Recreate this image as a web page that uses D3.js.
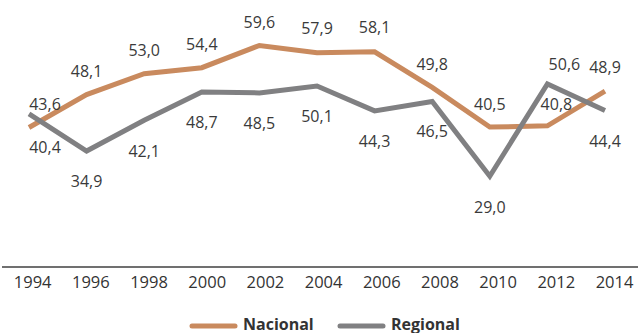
<!DOCTYPE html>
<html>
<head>
<meta charset="utf-8">
<script src="https://cdn.jsdelivr.net/npm/d3@7"></script>
<style>
  html, body { margin: 0; padding: 0; background: #ffffff; }
  svg { display: block; font-family: "Open Sans", sans-serif; }
</style>
</head>
<body>
<svg id="chart" width="638" height="333"></svg>
<script>
// Years on the horizontal axis
const years = [1994, 1996, 1998, 2000, 2002, 2004, 2006, 2008, 2010, 2012, 2014];

// Series values
const nacional = [40.4, 48.1, 53.0, 54.4, 59.6, 57.9, 58.1, 49.8, 40.5, 40.8, 48.9];
const regional = [43.6, 34.9, 42.1, 48.7, 48.5, 50.1, 44.3, 46.5, 29.0, 50.6, 44.4];

const seriesNames = ["Nacional", "Regional"];
const seriesColors = ["#c98a5e", "#808082"];

// Label nudges (pixels) relative to each point: [dx, dy to baseline]
const nacionalLabelNudge = [[16, 25.5], [0, -17.5], [0, -17.5], [0, -17.5], [0, -17.5], [0, -19], [0, -19], [0, -17.5], [0, -17], [9, -16], [0, -18]];
const regionalLabelNudge = [[16, -4], [0, 36], [0, 36.5], [0, 36], [0, 36], [0, 36], [0, 36], [0, 35.5], [0, 37], [17, -14], [0, 36.5]];

const fmt = v => d3.format(".1f")(v).replace(".", ",");

const svg = d3.select("#chart");

const x = d3.scalePoint().domain(years).range([29, 605]);
// Category labels sit on a slightly wider spacing than the points
const xLabel = d3.scalePoint().domain(years).range([32.7, 614.5]);
const y = d3.scaleLinear().domain([8, 70]).range([266, 1]);

// Baseline axis
const axisY = 267;
svg.append("line")
  .attr("x1", 2).attr("x2", 638)
  .attr("y1", axisY).attr("y2", axisY)
  .attr("stroke", "#404040").attr("stroke-width", 1.5);

svg.append("g")
  .selectAll("text")
  .data(years)
  .join("text")
  .attr("x", d => xLabel(d))
  .attr("y", 288)
  .attr("text-anchor", "middle")
  .attr("font-size", 16.5)
  .attr("fill", "#333333")
  .text(d => d);

const line = d3.line()
  .x((d, i) => x(years[i]))
  .y(d => y(d));

const allSeries = [nacional, regional];
const allNudges = [nacionalLabelNudge, regionalLabelNudge];

allSeries.forEach((vals, s) => {
  svg.append("path")
    .datum(vals)
    .attr("d", line)
    .attr("fill", "none")
    .attr("stroke", seriesColors[s])
    .attr("stroke-width", 5)
    .attr("stroke-linejoin", "miter");
});

allSeries.forEach((vals, s) => {
  svg.append("g")
    .selectAll("text")
    .data(vals)
    .join("text")
    .attr("x", (d, i) => x(years[i]) + allNudges[s][i][0])
    .attr("y", (d, i) => y(d) + allNudges[s][i][1])
    .attr("text-anchor", "middle")
    .attr("font-size", 16)
    .attr("fill", "#3a3a3a")
    .text(d => fmt(d));
});

// Legend
const legendItems = [
  { name: seriesNames[0], color: seriesColors[0], x: 190 },
  { name: seriesNames[1], color: seriesColors[1], x: 338 }
];
const lg = svg.append("g");
legendItems.forEach(item => {
  lg.append("line")
    .attr("x1", item.x + 2).attr("x2", item.x + 45)
    .attr("y1", 326).attr("y2", 326)
    .attr("stroke", item.color)
    .attr("stroke-width", 5)
    .attr("stroke-linecap", "round");
  lg.append("text")
    .attr("x", item.x + 53)
    .attr("y", 329.5)
    .attr("font-size", 16)
    .attr("font-weight", "bold")
    .attr("fill", "#333333")
    .text(item.name);
});
</script>
</body>
</html>
